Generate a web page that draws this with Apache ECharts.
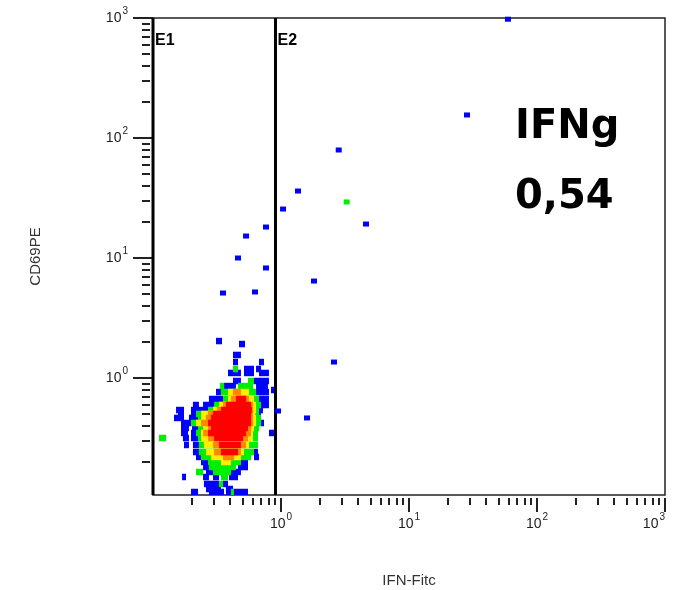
<!DOCTYPE html>
<html lang="de">
<head>
<meta charset="UTF-8">
<title>IFNg / CD69PE</title>
<script src="https://cdn.jsdelivr.net/npm/echarts@6/dist/echarts.min.js"></script>
<style>
  body { margin: 0; background: #fff; }
  #main { width: 673px; height: 590px; }
</style>
</head>
<body>
<div id="main"></div>
<script>
  // every value is log10 of the intensity (decades), axes run from 0.1 to 1000
  const xRange = [-1, 3];
  const yRange = [-0.975, 3];
  const majorDecades = [0, 1, 2, 3];
  const minorDecades = [-1, 0, 1, 2];
  const minorSteps = [2, 3, 4, 5, 6, 7, 8, 9];

  const gateX = [-1, -0.043];
  const gateNames = ['E1', 'E2'];
  const gateLabelY = 2.81;

  // density cells of the main population, one grid row each: [y, x from, x to]
  const blueRuns = [
    [0.308, -0.508, -0.461],
    [0.283, -0.328, -0.281],
    [0.192, -0.375, -0.313],
    [0.133, -0.375, -0.336], [0.133, -0.172, -0.133],
    [0.075, -0.289, -0.211], [0.075, -0.195, -0.156],
    [0.042, -0.414, -0.313], [0.042, -0.289, -0.211], [0.042, -0.172, -0.094],
    [-0.025, -0.375, -0.313], [-0.025, -0.211, -0.094],
    [-0.067, -0.445, -0.352], [-0.067, -0.195, -0.102],
    [-0.117, -0.508, -0.469], [-0.117, -0.195, -0.094], [-0.100, -0.078, -0.050],
    [-0.175, -0.563, -0.453], [-0.175, -0.172, -0.094],
    [-0.225, -0.688, -0.641], [-0.225, -0.609, -0.508], [-0.225, -0.172, -0.094],
    [-0.267, -0.820, -0.758], [-0.267, -0.703, -0.570], [-0.267, -0.195, -0.141],
    [-0.300, -0.805, -0.758], [-0.300, -0.703, -0.664], [-0.300, -0.195, -0.156],
    [-0.333, -0.836, -0.758], [-0.333, -0.719, -0.648],
    [-0.375, -0.781, -0.703], [-0.375, -0.156, -0.133],
    [-0.417, -0.781, -0.719], [-0.417, -0.695, -0.648],
    [-0.458, -0.781, -0.727], [-0.458, -0.703, -0.664], [-0.458, -0.094, -0.055],
    [-0.500, -0.766, -0.719], [-0.500, -0.703, -0.648],
    [-0.558, -0.758, -0.719], [-0.558, -0.688, -0.641],
    [-0.617, -0.688, -0.641], [-0.617, -0.211, -0.180],
    [-0.658, -0.664, -0.625], [-0.658, -0.211, -0.172],
    [-0.700, -0.625, -0.570], [-0.700, -0.492, -0.469], [-0.700, -0.313, -0.258],
    [-0.742, -0.609, -0.563], [-0.742, -0.508, -0.453], [-0.742, -0.336, -0.258],
    [-0.783, -0.586, -0.531], [-0.783, -0.391, -0.313],
    [-0.825, -0.773, -0.742], [-0.825, -0.609, -0.563], [-0.825, -0.531, -0.484], [-0.825, -0.406, -0.336],
    [-0.883, -0.602, -0.484], [-0.883, -0.453, -0.414],
    [-0.925, -0.586, -0.469], [-0.925, -0.430, -0.375],
    [-0.950, -0.703, -0.648], [-0.950, -0.563, -0.445], [-0.950, -0.430, -0.258]
  ];
  const greenRuns = [
    [0.075, -0.375, -0.336],
    [-0.025, -0.258, -0.211],
    [-0.067, -0.477, -0.445], [-0.067, -0.336, -0.219],
    [-0.117, -0.469, -0.195],
    [-0.175, -0.453, -0.172],
    [-0.225, -0.523, -0.156],
    [-0.267, -0.570, -0.172],
    [-0.300, -0.664, -0.172],
    [-0.333, -0.648, -0.156],
    [-0.375, -0.703, -0.156],
    [-0.417, -0.648, -0.172],
    [-0.458, -0.664, -0.180],
    [-0.500, -0.953, -0.898], [-0.500, -0.648, -0.180],
    [-0.558, -0.641, -0.180],
    [-0.617, -0.641, -0.211],
    [-0.658, -0.625, -0.234],
    [-0.700, -0.570, -0.313],
    [-0.742, -0.563, -0.352],
    [-0.783, -0.664, -0.609], [-0.783, -0.531, -0.391],
    [-0.825, -0.469, -0.414],
    [-0.883, -0.484, -0.453],
    [-0.950, -0.391, -0.367]
  ];
  const yellowRuns = [
    [-0.117, -0.414, -0.250],
    [-0.175, -0.414, -0.211],
    [-0.225, -0.484, -0.195],
    [-0.267, -0.531, -0.195],
    [-0.300, -0.625, -0.203],
    [-0.333, -0.625, -0.195],
    [-0.375, -0.664, -0.195],
    [-0.417, -0.609, -0.211],
    [-0.458, -0.625, -0.219],
    [-0.500, -0.625, -0.219],
    [-0.558, -0.602, -0.250],
    [-0.617, -0.586, -0.289],
    [-0.658, -0.547, -0.313],
    [-0.700, -0.469, -0.391]
  ];
  const orangeRuns = [
    [-0.117, -0.375, -0.313],
    [-0.175, -0.391, -0.250],
    [-0.225, -0.453, -0.219],
    [-0.267, -0.500, -0.219],
    [-0.300, -0.570, -0.219],
    [-0.333, -0.586, -0.219],
    [-0.375, -0.625, -0.219],
    [-0.417, -0.570, -0.234],
    [-0.458, -0.609, -0.234],
    [-0.500, -0.570, -0.258],
    [-0.558, -0.531, -0.273],
    [-0.617, -0.523, -0.313],
    [-0.658, -0.453, -0.367]
  ];
  const redRuns = [
    [-0.175, -0.352, -0.273],
    [-0.225, -0.430, -0.234],
    [-0.267, -0.469, -0.227],
    [-0.300, -0.531, -0.234],
    [-0.333, -0.547, -0.234],
    [-0.375, -0.570, -0.234],
    [-0.417, -0.547, -0.258],
    [-0.458, -0.570, -0.273],
    [-0.500, -0.523, -0.297],
    [-0.558, -0.484, -0.313],
    [-0.617, -0.469, -0.336]
  ];

  // single events outside the main population: [x, y]
  const bluePoints = [
    [1.773, 2.990], [1.453, 2.192], [0.451, 1.900], [0.133, 1.558],
    [0.016, 1.408], [0.664, 1.283], [0.258, 0.808], [0.414, 0.133],
    [0.203, -0.333], [-0.023, -0.275], [-0.117, 1.258], [-0.117, 0.917],
    [-0.203, 0.717], [-0.273, 1.183], [-0.336, 1.000], [-0.453, 0.708]
  ];
  const greenPoints = [[0.513, 1.467]];

  const statName = 'IFNg';
  const statValue = '0,54';

  const minorValues = [];
  minorDecades.forEach(d => minorSteps.forEach(k => minorValues.push(d + Math.log10(k))));

  const tickColor = '#222';
  const labelRich = {
    b: { fontSize: 14, fontFamily: 'Liberation Sans', color: '#222' },
    s: { fontSize: 10, fontFamily: 'Liberation Sans', color: '#222', padding: [0, 0, 14, 1] }
  };
  const powLabel = v => '{b|10}{s|' + Math.round(v) + '}';
  const hiddenLine = { show: false, onZero: false };

  function runSeries(name, data, color) {
    return {
      name: name,
      type: 'custom',
      clip: true,
      data: data,
      encode: { x: [1, 2], y: 0 },
      renderItem: function (params, api) {
        const p0 = api.coord([api.value(1), api.value(0)]);
        const p1 = api.coord([api.value(2), api.value(0)]);
        return {
          type: 'rect',
          shape: { x: p0[0], y: p0[1] - 3.25, width: p1[0] - p0[0], height: 6.5 },
          style: { fill: color }
        };
      }
    };
  }

  const chart = echarts.init(document.getElementById('main'));
  chart.setOption({
    backgroundColor: '#fff',
    animation: false,
    grid: {
      left: 153, top: 18, width: 512, height: 477,
      outerBoundsMode: 'none', containLabel: false,
      show: true, borderColor: '#222', borderWidth: 1.5, backgroundColor: 'transparent'
    },
    xAxis: [
      {
        type: 'value', min: xRange[0], max: xRange[1], position: 'bottom', offset: 3,
        name: 'IFN-Fitc', nameLocation: 'middle', nameGap: 75,
        nameTextStyle: { fontSize: 15, fontFamily: 'Liberation Sans', color: '#333' },
        axisLine: hiddenLine, splitLine: { show: false },
        axisTick: { customValues: majorDecades, length: 14, lineStyle: { color: tickColor, width: 2 } },
        axisLabel: {
          customValues: majorDecades, margin: 14, formatter: powLabel, rich: labelRich,
          alignMaxLabel: 'right'
        }
      },
      {
        type: 'value', min: xRange[0], max: xRange[1], position: 'bottom', offset: 3,
        axisLine: hiddenLine, splitLine: { show: false }, axisLabel: { show: false },
        axisTick: { customValues: minorValues, length: 7, lineStyle: { color: tickColor, width: 2 } }
      }
    ],
    yAxis: [
      {
        type: 'value', min: yRange[0], max: yRange[1], position: 'left',
        name: 'CD69PE', nameLocation: 'middle', nameGap: 110, nameRotate: 90,
        nameTextStyle: { fontSize: 15, fontFamily: 'Liberation Sans', color: '#333' },
        axisLine: hiddenLine, splitLine: { show: false },
        axisTick: { customValues: majorDecades, length: 20, lineStyle: { color: tickColor, width: 2 } },
        axisLabel: { customValues: majorDecades, margin: 25, formatter: powLabel, rich: labelRich }
      },
      {
        type: 'value', min: yRange[0], max: yRange[1], position: 'left', offset: 3,
        axisLine: hiddenLine, splitLine: { show: false }, axisLabel: { show: false },
        axisTick: { customValues: minorValues, length: 8, lineStyle: { color: tickColor, width: 2 } }
      }
    ],
    series: [
      runSeries('blue', blueRuns, '#0000ff'),
      runSeries('green', greenRuns, '#00ee00'),
      runSeries('yellow', yellowRuns, '#ffee00'),
      runSeries('orange', orangeRuns, '#ff8800'),
      runSeries('red', redRuns, '#ff0000'),
      {
        type: 'scatter', data: bluePoints, symbol: 'rect', symbolSize: [6, 5],
        itemStyle: { color: '#0000ff', opacity: 1 }, clip: true
      },
      {
        type: 'scatter', data: greenPoints, symbol: 'rect', symbolSize: [6, 5],
        itemStyle: { color: '#00ee00', opacity: 1 }, clip: true
      },
      {
        name: 'gates',
        type: 'custom',
        clip: false,
        data: gateX.map((x, i) => [x, gateNames[i]]),
        encode: { x: 0 },
        renderItem: function (params, api) {
          const x = api.value(0);
          const top = api.coord([x, yRange[1]]);
          const bottom = api.coord([x, yRange[0]]);
          const lab = api.coord([x, gateLabelY]);
          return {
            type: 'group',
            children: [
              {
                type: 'line',
                shape: { x1: top[0], y1: top[1], x2: bottom[0], y2: bottom[1] },
                style: { stroke: '#000', lineWidth: 3 }
              },
              {
                type: 'text',
                x: lab[0] + 2, y: lab[1],
                style: {
                  text: gateNames[params.dataIndex], fill: '#000',
                  font: 'bold 16px "Liberation Sans"', verticalAlign: 'middle'
                }
              }
            ]
          };
        }
      }
    ],
    graphic: [
      {
        type: 'text', left: 515, top: 108,
        style: { text: statName, font: 'bold 40px "DejaVu Sans"', fill: '#000' }
      },
      {
        type: 'text', left: 515, top: 178,
        style: { text: statValue, font: 'bold 40px "DejaVu Sans"', fill: '#000' }
      }
    ]
  });
</script>
</body>
</html>
